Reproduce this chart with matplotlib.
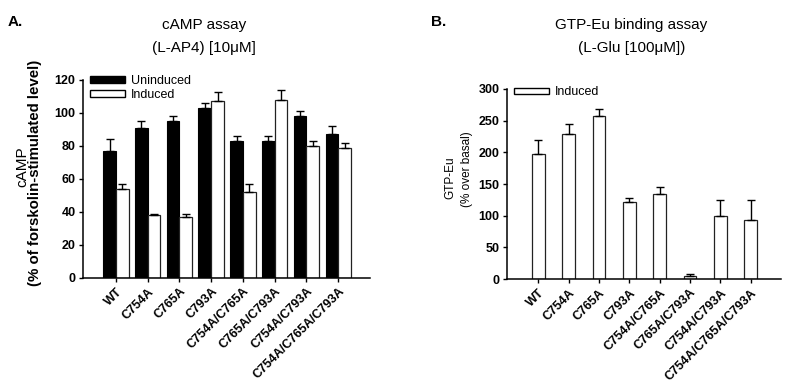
import matplotlib
matplotlib.use("Agg")
import matplotlib.pyplot as plt
import numpy as np
from matplotlib.patches import Patch

plt.rcParams['font.family'] = ['Liberation Sans', 'DejaVu Sans']

categories = ["WT", "C754A", "C765A", "C793A", "C754A/C765A", "C765A/C793A",
              "C754A/C793A", "C754A/C765A/C793A"]

# Panel A: cAMP assay
uninduced = [77, 91, 95, 103, 83, 83, 98, 87]
uninduced_err = [7, 4, 3, 3, 3, 3, 3, 5]
induced = [54, 38, 37, 107, 52, 108, 80, 79]
induced_err = [3, 1, 2, 6, 5, 6, 3, 3]

# Panel B: GTP-Eu binding assay
gtp = [198, 229, 258, 122, 134, 5, 99, 94]
gtp_err = [21, 15, 10, 6, 11, 3, 26, 31]

fig = plt.figure(figsize=(8, 3.92), dpi=100)
axA = fig.add_axes([0.104, 0.291, 0.3585, 0.505])
axB = fig.add_axes([0.634, 0.288, 0.342, 0.485])

x = np.arange(len(categories))
w = 0.4
ekw = dict(elinewidth=1.0, capsize=2.8, capthick=1.0, ecolor='black')

axA.bar(x - w/2, uninduced, w, color='black', edgecolor='black', linewidth=0.8,
        yerr=[np.zeros(len(x)), uninduced_err], error_kw=ekw, label='Uninduced')
axA.bar(x + w/2, induced, w, color='white', edgecolor='#222222', linewidth=0.9,
        yerr=[np.zeros(len(x)), induced_err], error_kw=ekw, label='Induced')

axB.bar(x, gtp, 0.42, color='white', edgecolor='#222222', linewidth=0.9,
        yerr=[np.zeros(len(x)), gtp_err], error_kw=ekw, label='Induced')

axA.set_ylim(0, 120)
axA.set_yticks([0, 20, 40, 60, 80, 100, 120])
axB.set_ylim(0, 300)
axB.set_yticks([0, 50, 100, 150, 200, 250, 300])

for ax in (axA, axB):
    ax.set_xlim(-1.03, 8)
    for s in ('top', 'right'):
        ax.spines[s].set_visible(False)
    for s in ('left', 'bottom'):
        ax.spines[s].set_linewidth(1.1)
    ax.tick_params(axis='both', direction='out', length=3, width=1.0, pad=2.5)
    ax.set_xticks(x)
    ax.set_xticklabels(categories, rotation=45, ha='right', rotation_mode='anchor',
                       fontsize=9, fontweight='bold')
    ax.tick_params(axis='y', labelsize=9)
    for lab in ax.get_yticklabels():
        lab.set_fontweight('bold')

# y labels
fig.text(0.0275, 0.574, "cAMP", rotation=90, ha='center', va='center', fontsize=11)
fig.text(0.0435, 0.56, "(% of forskolin-stimulated level)", rotation=90, ha='center',
         va='center', fontsize=10.8, fontweight='bold')
fig.text(0.5625, 0.546, "GTP-Eu", rotation=90, ha='center', va='center', fontsize=8.5)
fig.text(0.584, 0.569, "(% over basal)", rotation=90, ha='center', va='center',
         fontsize=8.5)

# legends
legA = axA.legend(handles=[Patch(facecolor='black', edgecolor='black', label='Uninduced'),
                           Patch(facecolor='white', edgecolor='black', label='Induced')],
                  loc='upper left', bbox_to_anchor=(0.0, 1.06), frameon=False,
                  fontsize=9, handlelength=2.8, handleheight=0.4,
                  handletextpad=0.5, labelspacing=0.15, borderaxespad=0.15)
legB = axB.legend(handles=[Patch(facecolor='white', edgecolor='black', label='Induced')],
                  loc='upper left', bbox_to_anchor=(0.0, 1.05), frameon=False,
                  fontsize=9, handlelength=2.8, handleheight=0.4,
                  handletextpad=0.5, borderaxespad=0.15)

# titles
fig.text(0.255, 0.936, "cAMP assay", ha='center', va='center', fontsize=11)
fig.text(0.255, 0.877, "(L-AP4) [10\u03bcM]", ha='center', va='center', fontsize=11)
fig.text(0.789, 0.936, "GTP-Eu binding assay", ha='center', va='center', fontsize=11)
fig.text(0.789, 0.877, "(L-Glu [100\u03bcM])", ha='center', va='center', fontsize=11)
fig.text(0.01, 0.943, "A.", ha='left', va='center', fontsize=11, fontweight='bold')
fig.text(0.539, 0.943, "B.", ha='left', va='center', fontsize=11, fontweight='bold')

fig.savefig("out.png", dpi=100)
